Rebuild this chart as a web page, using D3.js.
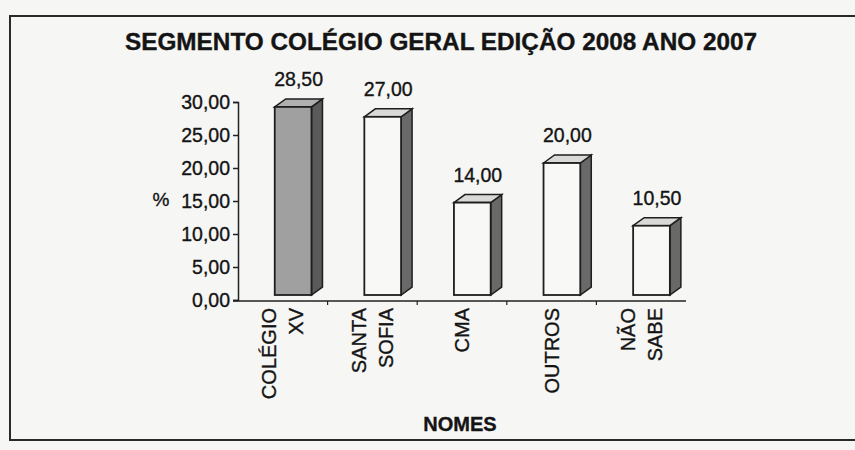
<!DOCTYPE html>
<html>
<head>
<meta charset="utf-8">
<script src="https://cdn.jsdelivr.net/npm/d3@7"></script>
<style>
  body { margin: 0; background: #f6f6f4; }
  svg { display: block; }
  text { font-family: "Liberation Sans", Arial, sans-serif; fill: #141414; stroke: #141414; stroke-width: 0.35; }
</style>
</head>
<body>
<svg id="chart" width="855" height="450"></svg>
<script>
// data
var names = [["COLÉGIO", "XV"], ["SANTA", "SOFIA"], ["CMA"], ["OUTROS"], ["NÃO", "SABE"]]
var values = [28.5, 27, 14, 20, 10.5]
var yTicks = [0, 5, 10, 15, 20, 25, 30]

var svg = d3.select("#chart")
var keys = names.map(function(d) { return d.join(" ") })

// outer frame of the pasted chart
svg.append("rect").attr("x", 10).attr("y", 16).attr("width", 860).attr("height", 424)
  .attr("fill", "none").attr("stroke", "#2a2a2a").attr("stroke-width", 2)

svg.append("text").attr("x", 441).attr("y", 50).attr("text-anchor", "middle")
  .attr("textLength", 632).attr("lengthAdjust", "spacingAndGlyphs")
  .style("font-family", "'Liberation Sans Narrow', 'Liberation Sans', sans-serif")
  .style("font-weight", "bold").style("font-size", "23px")
  .text("SEGMENTO COLÉGIO GERAL EDIÇÃO 2008 ANO 2007")

var x = d3.scaleBand().domain(keys).range([238, 686])
var y = d3.scaleLinear().domain([0, 30]).range([300, 102])

var fmt = function(v) { return d3.format(".2f")(v).replace(".", ",") }

// y axis
var yAxis = svg.append("g").attr("transform", "translate(238,0)")
  .call(d3.axisLeft(y).tickValues(yTicks).tickSize(5).tickPadding(3).tickFormat(fmt))
yAxis.selectAll("path, line").attr("stroke", "#222").attr("stroke-width", 1.5)
yAxis.selectAll("text").style("font-size", "19.5px").attr("fill", "#141414")
  .style("font-family", "'Liberation Sans', Arial, sans-serif")

svg.append("text").attr("x", 161).attr("y", 206).attr("text-anchor", "middle")
  .style("font-size", "19px").text("%")

// x axis baseline with category separators
svg.append("line").attr("x1", 233).attr("x2", 686).attr("y1", y(0) + 1).attr("y2", y(0) + 1)
  .attr("stroke", "#222").attr("stroke-width", 1.5)
svg.selectAll(".sep").data(keys.slice(1)).enter().append("line")
  .attr("x1", function(d) { return x(d) }).attr("x2", function(d) { return x(d) })
  .attr("y1", y(0) + 1).attr("y2", y(0) + 5)
  .attr("stroke", "#222").attr("stroke-width", 1.2)

// 3d bars
var bw = x.bandwidth() * 0.41
var dx = 11, dy = 8
var base = y(0) - 5
var per = (y(0) - y(30)) / 30

var bars = svg.selectAll(".bar").data(values).enter().append("g")
bars.each(function(v, i) {
  var g = d3.select(this)
  var x0 = x(keys[i]) + x.bandwidth() * 0.41
  var top = base - v * per
  var first = i === 0
  // side
  g.append("path")
    .attr("d", "M" + (x0 + bw) + "," + base + "L" + (x0 + bw) + "," + top +
      "L" + (x0 + bw + dx) + "," + (top - dy) + "L" + (x0 + bw + dx) + "," + (base - dy) + "Z")
    .attr("fill", first ? "#5a5a5a" : "#696969").attr("stroke", "#1e1e1e").attr("stroke-width", 1.5)
  // top
  g.append("path")
    .attr("d", "M" + x0 + "," + top + "L" + (x0 + dx) + "," + (top - dy) +
      "L" + (x0 + bw + dx) + "," + (top - dy) + "L" + (x0 + bw) + "," + top + "Z")
    .attr("fill", first ? "#b0b0b0" : "#d9d9d7").attr("stroke", "#1e1e1e").attr("stroke-width", 1.5)
  // front
  g.append("rect").attr("x", x0).attr("y", top).attr("width", bw).attr("height", base - top)
    .attr("fill", first ? "#a0a0a0" : "#f8f8f6").attr("stroke", "#1e1e1e").attr("stroke-width", 1.8)
  g.append("text").attr("x", x0 + (bw + dx) / 2).attr("y", top - dy - 13)
    .attr("text-anchor", "middle").style("font-size", "19.5px").text(fmt(v))
})

// rotated category labels
names.forEach(function(lines, i) {
  var cx = x(keys[i]) + x.bandwidth() / 2
  lines.forEach(function(t, j) {
    var off = (j - (lines.length - 1) / 2) * 27
    svg.append("text")
      .attr("transform", "translate(" + (cx + off + 7) + ",308) rotate(-90)")
      .attr("text-anchor", "end").style("font-size", "20px").text(t)
  })
})

svg.append("text").attr("x", 460).attr("y", 431).attr("text-anchor", "middle")
  .style("font-size", "20px").style("font-weight", "bold").text("NOMES")
</script>
</body>
</html>
